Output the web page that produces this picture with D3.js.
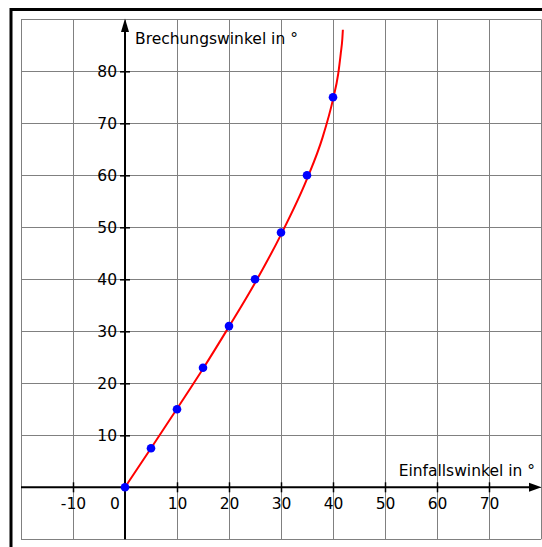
<!DOCTYPE html>
<html>
<head>
<meta charset="utf-8">
<script src="https://cdn.jsdelivr.net/npm/d3@7"></script>
<style>
  html, body { margin: 0; padding: 0; background: #fff; }
  svg { display: block; }
  text { font-family: "DejaVu Sans", Verdana, sans-serif; fill: #000; }
</style>
</head>
<body>
<script>
// ---- Data ----
const pointAlpha = [0, 5, 10, 15, 20, 25, 30, 35, 40];
const pointBeta  = [0, 7.5, 15, 23, 31, 40, 49, 60, 75];

const curveAlpha = [0, 5, 10, 15, 20, 25, 30, 35, 38, 40, 41, 41.5, 41.8, 41.9];
const curveBeta  = [0, 7.5, 15.1, 22.8, 30.9, 39.3, 48.6, 59.3, 67.3, 74.6, 79.5, 83.5, 86.3, 88];

const xTickValues = [-10, 10, 20, 30, 40, 50, 60, 70];
const xTickLabels = ["-10", "10", "20", "30", "40", "50", "60", "70"];
const yTickValues = [10, 20, 30, 40, 50, 60, 70, 80];
const yTickLabels = ["10", "20", "30", "40", "50", "60", "70", "80"];
const gridX = [-20, -10, 0, 10, 20, 30, 40, 50, 60, 70, 80];
const gridY = [-10, 0, 10, 20, 30, 40, 50, 60, 70, 80, 90];
const xTitle = "Einfallswinkel in °";
const yTitle = "Brechungswinkel in °";
const originLabel = "0";

// ---- Chart ----
const W = 542, H = 547;
const svg = d3.select("body").append("svg").attr("width", W).attr("height", H);

const x = d3.scaleLinear().domain([-20, 80]).range([21, 541]);
const y = d3.scaleLinear().domain([-10, 90]).range([539.3, 19.3]);

// grid
const grid = svg.append("g").attr("stroke", "#808080").attr("stroke-width", 1);
grid.selectAll("line.v").data(gridX).join("line").attr("class", "v")
  .attr("x1", d => Math.round(x(d)) + 0.5).attr("x2", d => Math.round(x(d)) + 0.5)
  .attr("y1", y(-10)).attr("y2", y(90));
grid.selectAll("line.h").data(gridY).join("line").attr("class", "h")
  .attr("y1", d => Math.round(y(d)) + 0.5).attr("y2", d => Math.round(y(d)) + 0.5)
  .attr("x1", x(-20)).attr("x2", x(80));

// frame
svg.append("rect").attr("x", 11).attr("y", 9.5).attr("width", 700).attr("height", 700)
  .attr("fill", "none").attr("stroke", "#000").attr("stroke-width", 3);

// axes
const x0 = x(0), y0 = y(0);
const axisG = svg.append("g");
const xAxis = axisG.append("g").attr("transform", `translate(0,${y0})`)
  .call(d3.axisBottom(x).tickValues(xTickValues).tickFormat((d, i) => xTickLabels[i]).tickSize(10).tickPadding(0));
xAxis.select(".domain").remove();
xAxis.selectAll(".tick line").attr("y1", -5).attr("y2", 5).attr("stroke", "#000").attr("stroke-width", 1.5);
xAxis.selectAll(".tick text").attr("y", 22).attr("dy", 0)
  .style("font-size", "15.5px").style("font-family", "DejaVu Sans");

const yAxis = axisG.append("g").attr("transform", `translate(${x0},0)`)
  .call(d3.axisLeft(y).tickValues(yTickValues).tickFormat((d, i) => yTickLabels[i]).tickSize(10));
yAxis.select(".domain").remove();
yAxis.selectAll(".tick line").attr("x1", -5).attr("x2", 5).attr("stroke", "#000").attr("stroke-width", 1.5);
yAxis.selectAll(".tick text").attr("x", -8).attr("dy", "0.36em")
  .style("font-size", "15.5px").style("font-family", "DejaVu Sans");

// axis lines
axisG.append("line").attr("x1", x(-20)).attr("x2", 530).attr("y1", y0).attr("y2", y0)
  .attr("stroke", "#000").attr("stroke-width", 2);
axisG.append("line").attr("x1", x0).attr("x2", x0).attr("y1", y(-10)).attr("y2", 31)
  .attr("stroke", "#000").attr("stroke-width", 2);
// arrowheads
axisG.append("path").attr("d", `M541.5,${y0} L529,${y0 - 4.5} L529,${y0 + 4.5} Z`).attr("fill", "#000");
axisG.append("path").attr("d", `M${x0},18.5 L${x0 - 4},32 L${x0 + 4},32 Z`).attr("fill", "#000");

// origin label
svg.append("text").attr("x", x0 - 10).attr("y", y0 + 22).attr("text-anchor", "middle")
  .style("font-size", "15.5px").text(originLabel);

// titles
svg.append("text").attr("x", 135).attr("y", 44).style("font-size", "15.5px").text(yTitle);
svg.append("text").attr("x", 535).attr("y", 476).attr("text-anchor", "end")
  .style("font-size", "15.5px").text(xTitle);

// curve
const curveData = curveAlpha.map((a, i) => [a, curveBeta[i]]);
svg.append("path").datum(curveData)
  .attr("d", d3.line().x(d => x(d[0])).y(d => y(d[1])).curve(d3.curveMonotoneX))
  .attr("fill", "none").attr("stroke", "#ff0000").attr("stroke-width", 2);

// points
svg.append("g").selectAll("circle").data(pointAlpha.map((a, i) => [a, pointBeta[i]])).join("circle")
  .attr("cx", d => x(d[0])).attr("cy", d => y(d[1])).attr("r", 4.3).attr("fill", "#0000ff");
</script>
</body>
</html>
